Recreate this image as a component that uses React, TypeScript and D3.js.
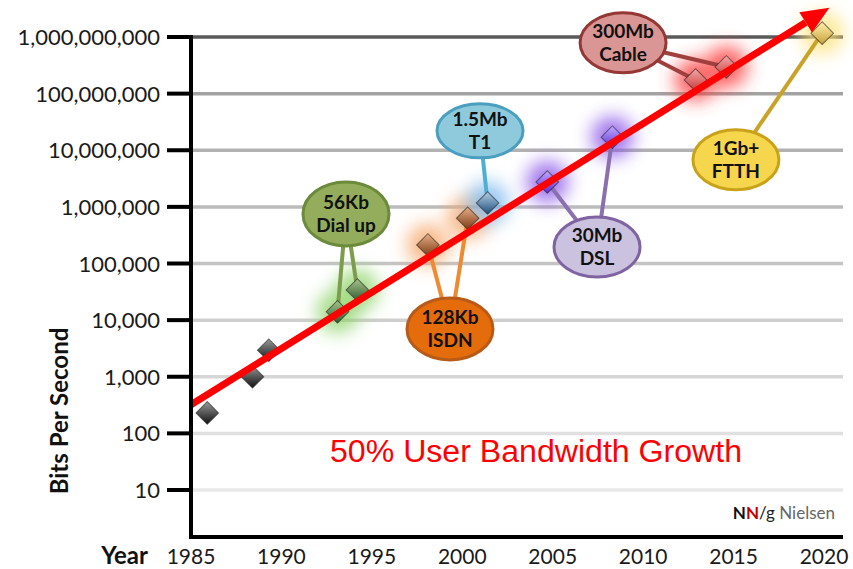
import React from "react";
import * as d3 from "d3";

// ---- data ----
const yTickValues = [10, 100, 1000, 10000, 100000, 1000000, 10000000, 100000000, 1000000000];
const xTickYears = [1985, 1990, 1995, 2000, 2005, 2010, 2015, 2020];

// measured connection speeds
const pointYears = [1985.9, 1988.4, 1989.3, 1993.1, 1994.2, 1998.1, 2000.3, 2001.4, 2004.7, 2008.3, 2012.9, 2014.6, 2019.9];
const pointValues = [230, 1000, 2950, 14000, 34000, 213000, 630000, 1170000, 2750000, 17000000, 174000000, 296000000, 1170000000];
const pointGroups = ["base", "base", "base", "dial", "dial", "isdn", "isdn", "t1", "dsl", "dsl", "cable", "cable", "ftth"];

// technology labels
const techKeys = ["dial", "isdn", "t1", "dsl", "cable", "ftth"];
const techSpeeds = ["56Kb", "128Kb", "1.5Mb", "30Mb", "300Mb", "1Gb+"];
const techNames = ["Dial up", "ISDN", "T1", "DSL", "Cable", "FTTH"];
const techLabelYears = [1993.57, 1999.32, 2000.98, 2007.45, 2008.89, 2015.13];
const techLabelValues = [750000, 7000, 22000000, 196000, 790000000, 6800000];

// trend line (50% growth)
const trendYears = [1985, 2020.3];
const trendValues = [320, 3300000000];
const trendLabel = "50% User Bandwidth Growth";

// ---- styles ----
const W = 853, H = 569;
const plotLeft = 191, plotRight = 843, plotBottom = 537;
const gridColors = ["#e8e8e8", "#e0e0e0", "#d6d6d6", "#cfcfcf", "#c4c4c4", "#bcbcbc", "#b2b2b2", "#a3a3a3", "#5a5a5a"];
const techStyle: Record<string, { fill: string; stroke: string; line: string; glow: string; d1: string; d2: string; ry: number }> = {
  base: { fill: "", stroke: "#111", line: "", glow: "", d1: "#9a9a9a", d2: "#111111", ry: 30 },
  dial: { fill: "#93ad5c", stroke: "#6b8a3a", line: "#7d9d4c", glow: "#8fd46a", d1: "#a9c58c", d2: "#2f5a2f", ry: 32 },
  isdn: { fill: "#e46c0a", stroke: "#b85a18", line: "#ef8a30", glow: "#f7a76a", d1: "#e8b08a", d2: "#7a3a12", ry: 31 },
  t1: { fill: "#8fcadc", stroke: "#4a9fc0", line: "#52aed0", glow: "#7cb8ec", d1: "#b3cfe8", d2: "#1f4e79", ry: 27 },
  dsl: { fill: "#cbc2df", stroke: "#8064a2", line: "#8a70b0", glow: "#8a55e8", d1: "#c2aaff", d2: "#5a30d8", ry: 30 },
  cable: { fill: "#d99694", stroke: "#953735", line: "#a0403e", glow: "#ff3a3a", d1: "#f6a8a8", d2: "#c83838", ry: 30 },
  ftth: { fill: "#f5d64c", stroke: "#c9a21a", line: "#c9a227", glow: "#ffe27a", d1: "#fff2b0", d2: "#c8a038", ry: 30 },
};

const x = d3.scaleLinear().domain([1985, 2020]).range([191, 824]);
const y = d3.scaleLog().domain([10, 1e9]).range([490, 37]);
const fmt = d3.format(",");

export default function App() {
  const points = pointYears.map((yr, i) => ({ cx: x(yr), cy: y(pointValues[i]), g: pointGroups[i] }));
  const tx0 = x(trendYears[0]), ty0 = y(trendValues[0]);
  const tx1 = x(trendYears[1]), ty1 = y(trendValues[1]);
  const ang = Math.atan2(ty1 - ty0, tx1 - tx0);
  const headLen = 28, headHalf = 12;
  const bx = tx1 - headLen * Math.cos(ang), by = ty1 - headLen * Math.sin(ang);
  const px = -Math.sin(ang), py = Math.cos(ang);
  const head = [
    [tx1, ty1],
    [bx + headHalf * px, by + headHalf * py],
    [bx - headHalf * px, by - headHalf * py],
  ];
  const font = "Lato, 'Open Sans', sans-serif";

  return (
    <svg width={W} height={H} style={{ position: "absolute", left: 0, top: 0, background: "#fff" }}>
      <defs>
        <filter id="glow" x="-100%" y="-100%" width="300%" height="300%">
          <feGaussianBlur stdDeviation="9" />
        </filter>
        {Object.keys(techStyle).map((k) => (
          <linearGradient key={k} id={"dg-" + k} x1="0" y1="0" x2="1" y2="1">
            <stop offset="0" stopColor={techStyle[k].d1} />
            <stop offset="1" stopColor={techStyle[k].d2} />
          </linearGradient>
        ))}
      </defs>

      {/* gridlines */}
      {yTickValues.map((v, i) => (
        <line key={"g" + v} x1={plotLeft} x2={plotRight} y1={y(v)} y2={y(v)} stroke={gridColors[i]} strokeWidth={3.5} />
      ))}

      {/* glows */}
      {points.filter((p) => p.g !== "base").map((p, i) => (
        <circle key={"gl" + i} cx={p.cx} cy={p.cy} r={21} fill={techStyle[p.g].glow} opacity={0.8} filter="url(#glow)" />
      ))}

      {/* connectors */}
      {points.filter((p) => p.g !== "base").map((p, i) => {
        const k = techKeys.indexOf(p.g);
        return (
          <line key={"c" + i} x1={x(techLabelYears[k])} y1={y(techLabelValues[k])} x2={p.cx} y2={p.cy}
            stroke={techStyle[p.g].line} strokeWidth={4} />
        );
      })}

      {/* bubbles */}
      {techKeys.map((k, i) => {
        const cx = x(techLabelYears[i]), cy = y(techLabelValues[i]);
        const s = techStyle[k];
        return (
          <g key={"b" + k}>
            <ellipse cx={cx} cy={cy} rx={43} ry={s.ry} fill={s.fill} stroke={s.stroke} strokeWidth={3} />
            <text x={cx} y={cy - 5} textAnchor="middle" fontFamily={font} fontSize={19} fontWeight="bold" fill="#111">{techSpeeds[i]}</text>
            <text x={cx} y={cy + 18} textAnchor="middle" fontFamily={font} fontSize={19} fontWeight="bold" fill="#111">{techNames[i]}</text>
          </g>
        );
      })}

      {/* diamonds */}
      {points.map((p, i) => (
        <rect key={"d" + i} x={-8} y={-8} width={16} height={16}
          transform={`translate(${p.cx},${p.cy}) rotate(45)`}
          fill={`url(#dg-${p.g})`} stroke="#222" strokeWidth={1} strokeOpacity={0.6} />
      ))}

      {/* trend arrow */}
      <line x1={tx0} y1={ty0} x2={bx} y2={by} stroke="#ff0000" strokeWidth={7} />
      <polygon points={head.map((q) => q.join(",")).join(" ")} fill="#ff0000" />
      <text x={330} y={462} fontFamily="'Liberation Sans', Arial, sans-serif" fontSize={31} textLength={412} lengthAdjust="spacingAndGlyphs" fill="#ff0000">{trendLabel}</text>

      {/* axes */}
      <line x1={plotLeft} x2={plotLeft} y1={35} y2={plotBottom + 2} stroke="#000" strokeWidth={4} />
      <line x1={plotLeft - 2} x2={plotRight} y1={plotBottom} y2={plotBottom} stroke="#000" strokeWidth={4} />
      {yTickValues.map((v) => (
        <g key={"t" + v}>
          <line x1={167} x2={plotLeft} y1={y(v)} y2={y(v)} stroke="#000" strokeWidth={4} />
          <text x={160} y={y(v) + 8} textAnchor="end" fontFamily={font} fontSize={22} fill="#1a1a1a">{fmt(v)}</text>
        </g>
      ))}
      {xTickYears.map((yr) => (
        <text key={"x" + yr} x={x(yr)} y={564} textAnchor="middle" fontFamily={font} fontSize={21} fill="#1a1a1a">{yr}</text>
      ))}
      <text x={148} y={564} textAnchor="end" fontFamily={font} fontSize={24} fontWeight="bold" fill="#111">Year</text>
      <text transform="translate(68,411) rotate(-90)" textAnchor="middle" fontFamily={font} fontSize={24} fontWeight="bold" fill="#111">Bits Per Second</text>

      {/* logo */}
      <text x={835} y={519} textAnchor="end" fontFamily={font} fontSize={17}>
        <tspan fontWeight="bold" fill="#111">N</tspan>
        <tspan fontWeight="bold" fill="#c00000">N</tspan>
        <tspan fill="#222">/g </tspan>
        <tspan fill="#666">Nielsen</tspan>
      </text>
    </svg>
  );
}
